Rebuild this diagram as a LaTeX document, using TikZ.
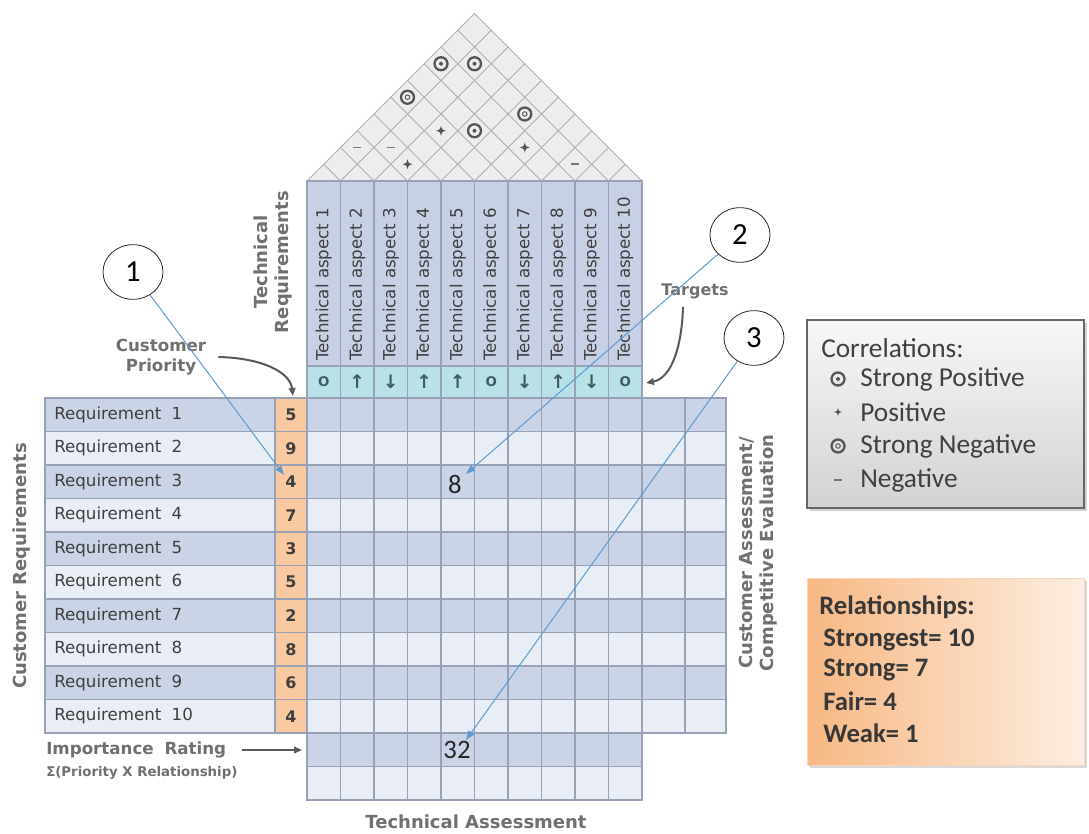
\documentclass[tikz,border=0pt]{standalone}
\usepackage{fontspec}
\usetikzlibrary{arrows.meta,shapes.geometric,shadows}
\newfontfamily\dejavu{DejaVu Sans}
\newfontfamily\calib{Carlito}
\definecolor{hdr}{HTML}{C7D0E4}
\definecolor{cyanrow}{HTML}{B9E2E8}
\definecolor{rowdark}{HTML}{CBD3E6}
\definecolor{rowlight}{HTML}{E9EDF6}
\definecolor{prio}{HTML}{F9CAA2}
\definecolor{gridline}{HTML}{98A1B5}
\definecolor{rooffill}{HTML}{EDEDED}
\definecolor{roofline}{HTML}{AEAEAE}
\definecolor{labelgray}{HTML}{707070}
\definecolor{textgray}{HTML}{3F3F3F}
\definecolor{callblue}{HTML}{5B9BD5}
\definecolor{symgray}{HTML}{555555}
\definecolor{tgtsym}{HTML}{3F5C60}
\definecolor{legtext}{HTML}{404040}
\definecolor{orgdark}{HTML}{F7B883}
\definecolor{orglight}{HTML}{FDEEE2}
\tikzset{
  cellline/.style={draw=gridline, line width=0.8pt},
  reqtext/.style={font=\dejavu\fontsize{12.5}{15}\selectfont, text=textgray, anchor=west, inner sep=0pt},
  priotext/.style={font=\dejavu\bfseries\fontsize{12}{14}\selectfont, text=textgray, inner sep=0pt},
  aspecttext/.style={font=\dejavu\fontsize{12.5}{15}\selectfont, text=textgray, rotate=90, anchor=west, inner sep=0pt},
  biglabel/.style={font=\dejavu\bfseries\fontsize{13.5}{16}\selectfont, text=labelgray, align=center, inner sep=0pt},
  smalllabel/.style={font=\dejavu\bfseries\fontsize{12.5}{15}\selectfont, text=labelgray, align=center, inner sep=0pt},
  callout/.style={ellipse, draw=black!85, line width=0.6pt, fill=white, minimum width=45pt, minimum height=41pt, inner sep=0pt, font=\calib\fontsize{23}{26}\selectfont},
  callarrow/.style={draw=callblue, line width=0.75pt, -{Triangle[length=7pt,width=5pt]}},
  grayarrow/.style={draw=black!65, line width=1.5pt, -{Triangle[length=6pt,width=5pt]}},
  numtext/.style={font=\calib\fontsize{20}{24}\selectfont, text=black!85, inner sep=0pt},
  tgttext/.style={font=\dejavu\bfseries\fontsize{10}{12}\selectfont, text=tgtsym, inner sep=0pt},
  tgtarrow/.style={font=\dejavu\bfseries\fontsize{14}{16}\selectfont, text=tgtsym, inner sep=0pt},
  legtxt/.style={font=\calib\fontsize{20.5}{24}\selectfont, text=legtext, anchor=west, inner sep=0pt},
  legbold/.style={font=\calib\bfseries\fontsize{20}{24}\selectfont, text=black!78, anchor=west, inner sep=0pt},
  spos/.pic={\draw[symgray, line width=1.7pt] (0,0) circle (6.5); \fill[symgray] (0,0) circle (2);},
  sneg/.pic={\draw[symgray, line width=1.7pt] (0,0) circle (6.5); \draw[symgray, line width=0.7pt] (0,0) circle (2.3);},
  ppos/.pic={\fill[symgray] (0,-5) -- (1.2,-1.2) -- (5,0) -- (1.2,1.2) -- (0,5) -- (-1.2,1.2) -- (-5,0) -- (-1.2,-1.2) -- cycle; \fill[symgray] (0,0) circle (2.2);},
  pneg/.pic={\draw[symgray!80, line width=1.3pt] (-4,0) -- (4,0);},
}
\begin{document}
\begin{tikzpicture}[x=0.75pt,y=-0.75pt]
\useasboundingbox (0,0) rectangle (1089,834);
\fill[white] (0,0) rectangle (1089,834);
% ---------- roof ----------
\fill[rooffill] (307,181) -- (474.5,13.5) -- (642,181) -- cycle;
\foreach \k in {0,...,10}{
  \pgfmathsetmacro\xk{307+33.5*\k}
  \pgfmathsetmacro\tr{(642-\xk)/2}
  \pgfmathsetmacro\tl{(\xk-307)/2}
  \draw[roofline, line width=0.7pt] (\xk,181) -- ++(\tr,-\tr);
  \draw[roofline, line width=0.7pt] (\xk,181) -- ++(-\tl,-\tl);
}
\foreach \i/\j in {1/8,2/9,4/7}{
  \pic at ({307+33.5*((\i+\j)/2-0.5)},{181-16.75*(\j-\i)}) {spos};
}
\foreach \i/\j in {1/6,5/9}{
  \pic at ({307+33.5*((\i+\j)/2-0.5)},{181-16.75*(\j-\i)}) {sneg};
}
\foreach \i/\j in {3/6,6/8,3/4}{
  \pic at ({307+33.5*((\i+\j)/2-0.5)},{181-16.75*(\j-\i)}) {ppos};
}
\foreach \i/\j in {1/3,2/4,8/9}{
  \pic at ({307+33.5*((\i+\j)/2-0.5)},{181-16.75*(\j-\i)}) {pneg};
}
% ---------- header columns ----------
\foreach \c in {1,...,10}{
  \pgfmathsetmacro\xa{307+33.5*(\c-1)}
  \pgfmathsetmacro\xb{307+33.5*\c}
  \draw[cellline, fill=hdr] (\xa,181) rectangle (\xb,366);
  \draw[cellline, fill=cyanrow] (\xa,366) rectangle (\xb,398);
  \node[aspecttext] (ta\c) at ({(\xa+\xb)/2},361) {Technical aspect \c};
}
\foreach \c in {1,6,10}{
  \node[tgttext] (tg\c) at ({307+33.5*(\c-0.5)},382) {O};
}
\foreach \c in {2,4,5,8}{
  \node[tgtarrow] (tg\c) at ({307+33.5*(\c-0.5)},382) {↑};
}
\foreach \c in {3,7,9}{
  \node[tgtarrow] (tg\c) at ({307+33.5*(\c-0.5)},382) {↓};
}
% ---------- main rows ----------
\foreach \r/\p in {1/5,2/9,3/4,4/7,5/3,6/5,7/2,8/8,9/6,10/4}{
  \pgfmathsetmacro\ya{398+33.5*(\r-1)}
  \pgfmathsetmacro\yb{398+33.5*\r}
  \ifodd\r\def\rc{rowdark}\else\def\rc{rowlight}\fi
  \draw[cellline, fill=\rc] (45,\ya) rectangle (275,\yb);
  \draw[cellline, fill=prio] (275,\ya) rectangle (307,\yb);
  \foreach \c in {1,...,10}{\draw[cellline, fill=\rc] ({307+33.5*(\c-1)},\ya) rectangle ({307+33.5*\c},\yb);}
  \draw[cellline, fill=\rc] (642,\ya) rectangle (685,\yb);
  \draw[cellline, fill=\rc] (685,\ya) rectangle (726,\yb);
  \node[reqtext] (rq\r) at (54,{(\ya+\yb)/2}) {Requirement\hspace{0.3em} \r};
  \node[priotext] (pr\r) at (291,{(\ya+\yb)/2}) {\p};
}
\foreach \c in {1,...,10}{
  \draw[cellline, fill=rowdark] ({307+33.5*(\c-1)},733) rectangle ({307+33.5*\c},766.5);
  \draw[cellline, fill=rowlight] ({307+33.5*(\c-1)},766.5) rectangle ({307+33.5*\c},800);
}
% ---------- labels ----------
\node[biglabel, rotate=90] (custreq) at (22,566) {Customer Requirements};
\node[biglabel, rotate=90] (techreq) at (273,262) {Technical\\Requirements};
\node[smalllabel] (cpri) at (161,357) {Customer\\Priority};
\node[font=\dejavu\bfseries\fontsize{12}{14}\selectfont, text=labelgray, inner sep=0pt] (tgt) at (695,291) {Targets};
\node[smalllabel, anchor=west] (imp) at (46,750) {Importance\hspace{0.3em} Rating};
\node[font=\dejavu\bfseries\fontsize{10}{12}\selectfont, text=labelgray, anchor=west, inner sep=0pt] (impsub) at (46,773) {Σ(Priority X Relationship)};
\node[biglabel] (techass) at (476,822) {Technical Assessment};
\node[biglabel, rotate=90] (custass) at (758,553) {Customer Assessment/\\Competitive Evaluation};
% curved gray arrows
\coordinate (cpend) at (293,396);
\draw[grayarrow] ([xshift=9pt]cpri.east) .. controls (262,358) and (290,372) .. (cpend);
\coordinate (tgend) at (646,383);
\draw[grayarrow] ([shift={(-12,8)}]tgt.south) .. controls (682,345) and (672,378) .. (tgend);
\coordinate (impend) at (302,750);
\draw[grayarrow, line width=1.2pt] ([xshift=12pt]imp.east) -- (impend);
% ---------- callouts ----------
\node[numtext] (n8) at (455,484) {8};
\node[numtext] (n32) at (457,750) {32};
\node[callout] (c1) at (133,272) {1};
\node[callout] (c2) at (740,235) {2};
\node[callout] (c3) at (754,338) {3};
\coordinate (t1) at (284,475);
\coordinate (t2) at (466,474);
\coordinate (t3) at (466,740);
\draw[callarrow] (c1) -- (t1);
\draw[callarrow] (c2) -- (t2);
\draw[callarrow] (c3) -- (t3);
% ---------- legends ----------
\path[draw=black!60, line width=0.8pt, top color=gray!6, bottom color=gray!35, drop shadow={shadow xshift=2pt, shadow yshift=-2pt, opacity=0.35}] (807,320) rectangle (1084,508);
\node[legtxt] (lgc) at (821,348) {Correlations:};
\pic at (838,379) {spos};
\node[legtxt] (lg1) at (860,379) {Strong Positive};
\pic[scale=0.8] at (838,412) {ppos};
\node[legtxt] (lg2) at (860,412) {Positive};
\pic at (838,446) {sneg};
\node[legtxt] (lg3) at (860,446) {Strong Negative};
\pic at (838,480) {pneg};
\node[legtxt] (lg4) at (860,480) {Negative};
\path[draw=orgdark!60, line width=0.6pt, left color=orgdark, right color=orglight, drop shadow={shadow xshift=2pt, shadow yshift=-2pt, opacity=0.3}] (807,578) rectangle (1084,765);
\node[legbold] (lgr) at (819,607) {Relationships:};
\node[legbold] (lr1) at (823,640) {Strongest= 10};
\node[legbold] (lr2) at (823,670) {Strong= 7};
\node[legbold] (lr3) at (823,701) {Fair= 4};
\node[legbold] (lr4) at (823,733) {Weak= 1};
\end{tikzpicture}
\end{document}
